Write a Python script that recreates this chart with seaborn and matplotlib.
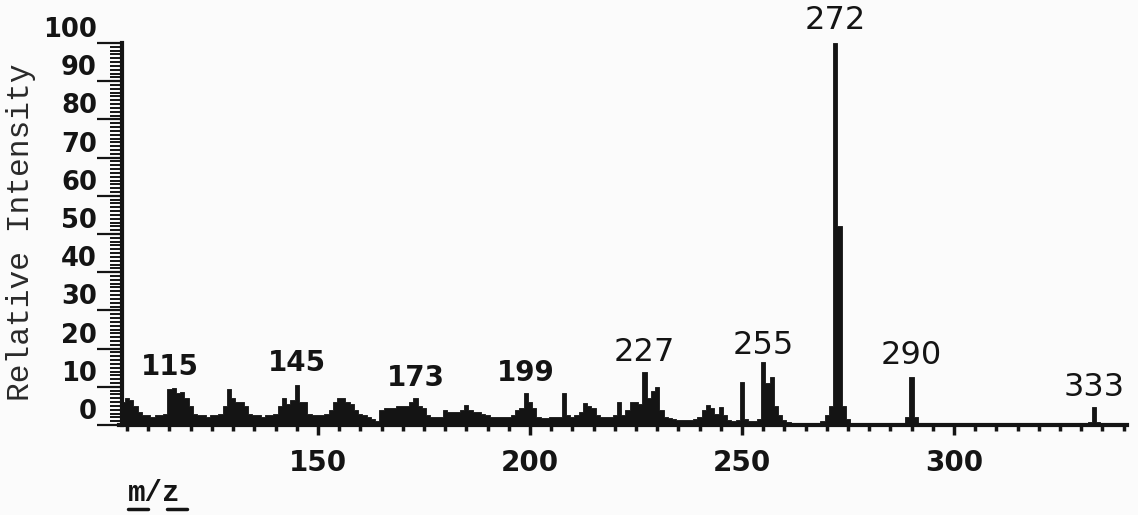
import matplotlib
matplotlib.use("Agg")
import matplotlib.pyplot as plt
from matplotlib.lines import Line2D
from matplotlib.ticker import MultipleLocator, FixedLocator
import numpy as np
import pandas as pd
import seaborn as sns

# Mass spectrum: relative intensity at each integer m/z
profile_start = 103
profile_intensity = [
    3, 6, 7, 6.5, 5, 3.5, 2.5, 2.5, 2, 2.5,            # 103-112
    2.5, 3, 9.5, 9.7, 8.5, 8.6, 7, 5, 3, 2.5,          # 113-122
    2.5, 2, 2.5, 2.5, 3, 5, 9.5, 7, 6, 6,              # 123-132
    5, 3, 2.5, 2.5, 2, 2.5, 2.5, 3, 5, 7,              # 133-142
    5.5, 6.5, 10.5, 6, 6, 3, 2.5, 2.5, 2.5, 3,         # 143-152
    4, 6, 7, 7, 6, 5.5, 4, 3, 2.5, 2,                  # 153-162
    1.5, 1, 4, 4.5, 4.5, 4.5, 5, 5, 5, 6,              # 163-172
    7, 5, 4.5, 2.5, 2, 2, 2, 4, 3.5, 3.5,              # 173-182
    3.5, 4, 5.2, 4, 3.5, 3.5, 3, 2.5, 2, 2,            # 183-192
    2, 2, 2, 2.5, 4, 4.5, 8.5, 6, 4.5, 2,              # 193-202
    1.8, 1.8, 2, 2, 2, 8.4, 2.5, 2, 2.5, 3.5,          # 203-212
    5.8, 5, 4.5, 2.5, 2, 2, 2, 2.5, 6, 2.5,            # 213-222
    4, 6, 6, 5.5, 13.8, 7, 9, 10, 4, 2,                # 223-232
    1.8, 1.5, 1.2, 1.2, 1.2, 1.2, 1.5, 2, 4, 5.2,      # 233-242
    4.5, 3, 4.8, 2.5, 1.2, 1, 1.2, 11.3, 1.5, 1,       # 243-252
    1, 1.5, 16.5, 11, 12.5, 5, 2.5, 1.2, 0.8, 0.5,     # 253-262
    0.3, 0.3, 0.3, 0.3, 0.3, 0.5, 1, 2.5, 5, 100,      # 263-272
    52, 5, 1.5,                                        # 273-275
]
profile_mz = list(range(profile_start, profile_start + len(profile_intensity)))

# isolated high-mass ions
tail_mz = [288, 289, 290, 291, 332, 333, 334]
tail_intensity = [0.5, 2, 12.6, 2, 0.8, 4.7, 0.8]

# annotated ions and the height of their labels
peak_labels = [115, 145, 173, 199, 227, 255, 272, 290, 333]
label_heights = [15.2, 16.2, 12.3, 13.6, 19.1, 20.9, 105.8, 18.3, 9.7]
label_weights = ["bold", "bold", "bold", "bold", "normal", "normal", "normal", "normal", "normal"]

x_major = [150, 200, 250, 300]
y_major = list(range(0, 101, 10))

spectrum = pd.DataFrame({
    "mz": profile_mz + tail_mz,
    "intensity": profile_intensity + tail_intensity,
})

sns.set_theme(style="white")
plt.rcParams["font.family"] = ["DejaVu Sans"]
ink = "#141414"
paper = "#fbfbfb"

fig = plt.figure(figsize=(11.38, 5.15), dpi=100, facecolor=paper)
ax = fig.add_axes([122 / 1138, 90 / 515, 1005 / 1138, 382 / 515])
ax.set_facecolor(paper)

sns.histplot(data=spectrum, x="mz", weights="intensity", discrete=True,
             element="step", fill=True, color=ink, alpha=1.0,
             linewidth=0.6, edgecolor=ink, ax=ax)

ax.set_xlim(103.8, 340.8)
ax.set_ylim(0, 100)

for side in ("top", "right"):
    ax.spines[side].set_visible(False)
for side in ("left", "bottom"):
    ax.spines[side].set_color(ink)
    ax.spines[side].set_linewidth(3)
ax.spines["bottom"].set_bounds(103.0, 340.8)

ax.tick_params(which="both", bottom=True, left=True, top=False, right=False)

# x axis: small ticks every 5 units, labels every 50
ax.xaxis.set_major_locator(FixedLocator(x_major))
ax.xaxis.set_minor_locator(MultipleLocator(5))
ax.set_xticklabels([str(v) for v in x_major])
ax.tick_params(axis="x", which="major", direction="out", length=7, width=2.5,
               color=ink, pad=10, labelsize=20, labelcolor=ink)
ax.tick_params(axis="x", which="minor", direction="out", length=4, width=2.5,
               color=ink)
for lab in ax.get_xticklabels():
    lab.set_fontweight("bold")

# y axis: ruler with a tick for every unit, labels every 10
ax.yaxis.set_major_locator(FixedLocator(y_major))
ax.yaxis.set_minor_locator(MultipleLocator(1))
ax.set_yticklabels([str(v) for v in y_major])
ax.tick_params(axis="y", which="major", direction="out", length=18, width=1.6,
               color=ink, pad=0, labelsize=18.5, labelcolor=ink)
ax.tick_params(axis="y", which="minor", direction="out", length=9, width=1.4,
               color=ink)
for lab in ax.get_yticklabels():
    lab.set_fontweight("bold")
    lab.set_verticalalignment("bottom")

ax.set_xlabel("")
ax.set_ylabel("Relative Intensity", family="Liberation Mono", fontsize=22.5,
              color="#2a2a2a")
ax.yaxis.set_label_coords(-0.086, 0.505)

for mz, h, w in zip(peak_labels, label_heights, label_weights):
    size = 20 if w == "bold" else 23
    ax.text(mz, h, str(mz), ha="center", va="center", fontsize=size,
            fontweight=w, color=ink, clip_on=False)

# axis unit with underlined letters
fig.text(128 / 1138, 14 / 515, "m/z", family="Liberation Mono", fontsize=21,
         fontweight="bold", color=ink, ha="left", va="baseline")
for x0, x1 in [(128, 148), (167, 187)]:
    fig.add_artist(Line2D([x0 / 1138, x1 / 1138], [6 / 515, 6 / 515],
                          color=ink, linewidth=2.5))

fig.savefig("out.png", dpi=100, facecolor=paper)
